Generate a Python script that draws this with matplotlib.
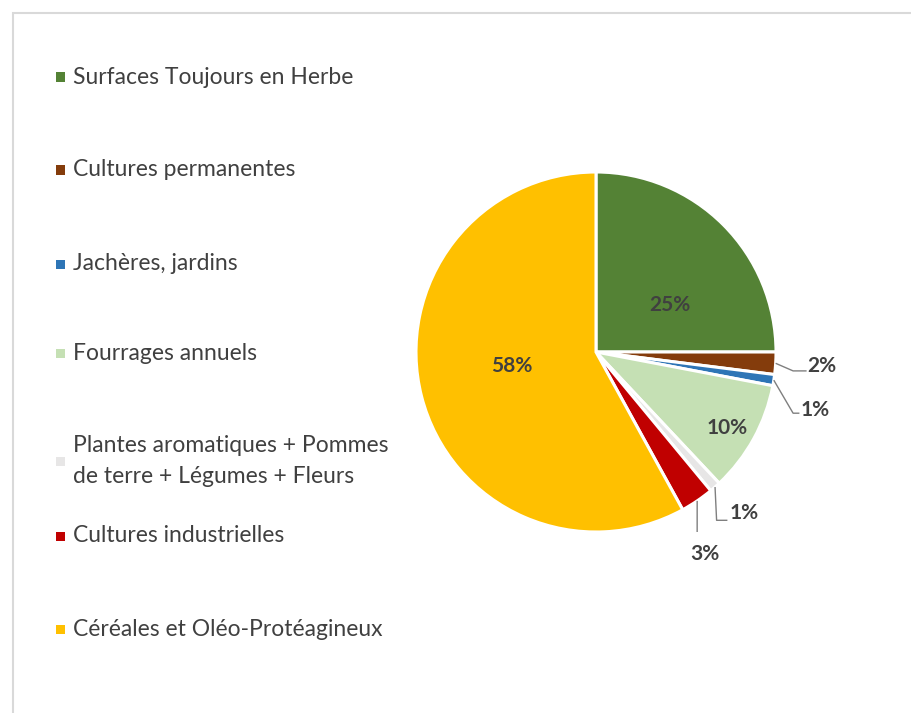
import matplotlib
matplotlib.use("Agg")
import matplotlib.pyplot as plt
from matplotlib.patches import Rectangle
import numpy as np

# Répartition de la surface agricole
categories = [
    "Surfaces Toujours en Herbe",
    "Cultures permanentes",
    "Jachères, jardins",
    "Fourrages annuels",
    "Plantes aromatiques + Pommes\nde terre + Légumes + Fleurs",
    "Cultures industrielles",
    "Céréales et Oléo-Protéagineux",
]
shares = [25, 2, 1, 10, 1, 3, 58]
colors = ["#548235", "#843C0C", "#2E75B6", "#C5E0B4", "#E7E6E6", "#C00000", "#FFC000"]
legend_y = [77, 170, 264, 353, 461, 536, 629]   # px from top

FONT = "Lato"
TEXT = "#404040"
W, H = 912, 713
fig = plt.figure(figsize=(W / 100, H / 100), dpi=100)
fig.patch.set_facecolor("white")

# chart frame
fig.patches.append(Rectangle((13 / W, -0.01), 1.02, (H - 13) / H + 0.01,
                             transform=fig.transFigure, fill=False,
                             edgecolor="#D9D9D9", linewidth=1.5))

# pie axes: centre (596, 352) px, radius 180 px
cx, cy, R = 596, 352, 180
half = 240
ax = fig.add_axes([(cx - half) / W, (H - cy - half) / H, 2 * half / W, 2 * half / H])

wedges, _ = ax.pie(shares, colors=colors, startangle=90, counterclock=False,
                   radius=1, wedgeprops=dict(edgecolor="white", linewidth=2.2))
lim = half / R
ax.set_xlim(-lim, lim)
ax.set_ylim(-lim, lim)
ax.set_aspect("equal")
ax.axis("off")

# mid angle of every wedge
mids = [np.deg2rad((w.theta1 + w.theta2) / 2) for w in wedges]

PCT_SIZE = 15
# labels inside the large wedges
inside = {0: (0.41, 0.26), 3: (0.73, -0.42), 6: (-0.47, -0.075)}
for i, (x, y) in inside.items():
    ax.text(x, y, f"{shares[i]}%", ha="center", va="center", fontsize=PCT_SIZE,
            fontweight="bold", color=TEXT, family=FONT)

# labels with leader lines for the thin wedges
# (elbow point, line end, text position)
outside = {
    1: ((1.095, -0.105), (1.17, -0.105), (1.175, -0.075, "left")),
    2: ((1.095, -0.34), (1.13, -0.34), (1.135, -0.325, "left")),
    4: ((0.67, -0.935), (0.73, -0.935), (0.74, -0.895, "left")),
    5: ((0.562, -1.0), (0.562, -1.0), (0.605, -1.12, "center")),
}
for i, (elbow, end, (tx, ty, ha)) in outside.items():
    sx, sy = np.cos(mids[i]), np.sin(mids[i])
    ax.plot([sx, elbow[0], end[0]], [sy, elbow[1], end[1]], color="#7F7F7F",
            linewidth=1.0, solid_capstyle="butt")
    ax.text(tx, ty, f"{shares[i]}%", ha=ha, va="center", fontsize=PCT_SIZE,
            fontweight="bold", color=TEXT, family=FONT)

# legend column
for cat, col, y in zip(categories, colors, legend_y):
    fig.patches.append(Rectangle((56 / W, 1 - (y + 4.5) / H), 9 / W, 9 / H,
                                 transform=fig.transFigure, facecolor=col,
                                 edgecolor="none"))
    fig.text(73 / W, 1 - y / H, cat, ha="left", va="center", fontsize=16.5,
             color=TEXT, family=FONT, linespacing=1.55)

fig.savefig("out.png", dpi=100, facecolor="white")
